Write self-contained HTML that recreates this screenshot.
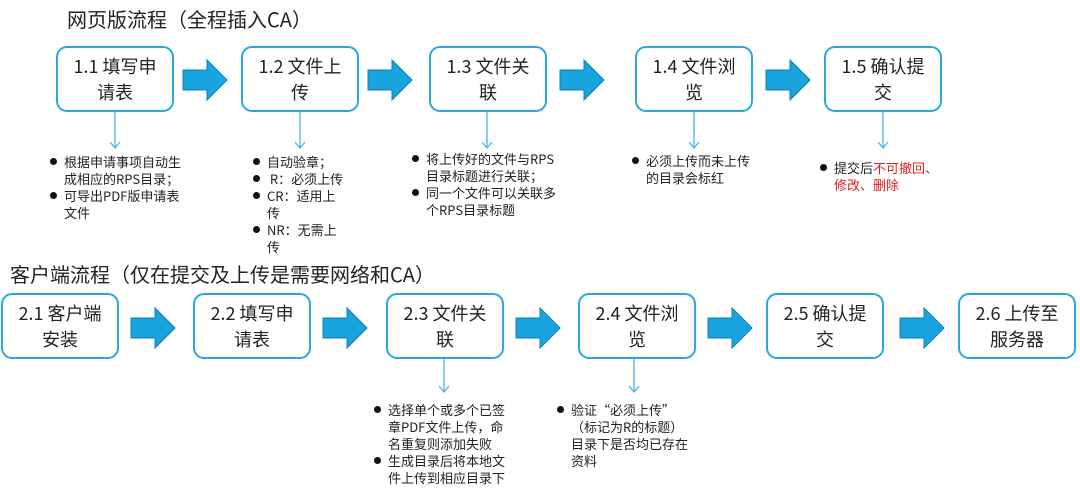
<!DOCTYPE html>
<html><head><meta charset="utf-8"><style>
body{margin:0;width:1080px;height:489px;background:#fff;position:relative;overflow:hidden;font-family:"Noto Sans CJK SC","Liberation Sans",sans-serif;color:#222}
.t{position:absolute;font-size:20px;line-height:26px;white-space:nowrap}
.b{position:absolute;box-sizing:border-box;width:118px;height:66px;border:2.5px solid #29a8e0;border-radius:11px;font-size:18px;line-height:26px;text-align:center;padding-top:5px;background:#fff}
.n{position:absolute;font-size:13px;line-height:17px}
.n div{position:relative;padding-left:14px}
.n div.d::before{content:"";position:absolute;left:0;top:5px;width:7px;height:7px;border-radius:50%;background:#111}
.r{color:#e02020}
svg{position:absolute;left:0;top:0}
</style></head><body>
<div class="t" style="left:67px;top:6px">网页版流程（全程插入CA）</div>
<div class="t" style="left:10px;top:261px">客户端流程（仅在提交及上传是需要网络和CA）</div>

<div class="b" style="left:56px;top:46px">1.1 填写申<br>请表</div>
<div class="b" style="left:241px;top:46px">1.2 文件上<br>传</div>
<div class="b" style="left:429px;top:46px">1.3 文件关<br>联</div>
<div class="b" style="left:635px;top:46px">1.4 文件浏<br>览</div>
<div class="b" style="left:824px;top:46px">1.5 确认提<br>交</div>

<div class="b" style="left:1px;top:293px">2.1 客户端<br>安装</div>
<div class="b" style="left:193px;top:293px">2.2 填写申<br>请表</div>
<div class="b" style="left:386px;top:293px">2.3 文件关<br>联</div>
<div class="b" style="left:578px;top:293px">2.4 文件浏<br>览</div>
<div class="b" style="left:766px;top:293px">2.5 确认提<br>交</div>
<div class="b" style="left:958px;top:293px">2.6 上传至<br>服务器</div>

<svg width="1080" height="489">
<defs><g id="a"><polygon points="0,10 24,10 24,0 44,20 24,40 24,30 0,30" fill="#18a4de" stroke="#1380b0" stroke-width="1"/></g></defs>
<use href="#a" x="183" y="60"/><use href="#a" x="368" y="60"/><use href="#a" x="560" y="60"/><use href="#a" x="766" y="60"/>
<use href="#a" x="131" y="308"/><use href="#a" x="323" y="308"/><use href="#a" x="516" y="308"/><use href="#a" x="708" y="308"/><use href="#a" x="900" y="308"/>
<g stroke="#4ab4e6" stroke-width="1.3" fill="none">
<path d="M115 112V148M110 142L115 148L120 142"/>
<path d="M300 112V148M295 142L300 148L305 142"/>
<path d="M487 112V148M482 142L487 148L492 142"/>
<path d="M694 112V148M689 142L694 148L699 142"/>
<path d="M883 112V148M878 142L883 148L888 142"/>
<path d="M444 359V392M439 386L444 392L449 386"/>
<path d="M634 359V392M629 386L634 392L639 386"/>
</g>
</svg>

<div class="n" style="left:50px;top:153px;width:160px"><div class="d">根据申请事项自动生<br>成相应的RPS目录；</div><div class="d">可导出PDF版申请表<br>文件</div></div>
<div class="n" style="left:253px;top:153px;width:120px"><div class="d">自动验章；</div><div class="d">&nbsp;R：必须上传</div><div class="d">CR：适用上<br>传</div><div class="d">NR：无需上<br>传</div></div>
<div class="n" style="left:412px;top:150px;width:190px"><div class="d">将上传好的文件与RPS<br>目录标题进行关联；</div><div class="d">同一个文件可以关联多<br>个RPS目录标题</div></div>
<div class="n" style="left:632px;top:152px;width:140px"><div class="d">必须上传而未上传<br>的目录会标红</div></div>
<div class="n" style="left:820px;top:159px;width:140px"><div class="d">提交后<span class="r">不可撤回、<br>修改、删除</span></div></div>
<div class="n" style="left:374px;top:401px;width:160px"><div class="d">选择单个或多个已签<br>章PDF文件上传，命<br>名重复则添加失败</div><div class="d">生成目录后将本地文<br>件上传到相应目录下</div></div>
<div class="n" style="left:557px;top:401px;width:160px"><div class="d">验证“必须上传”<br>（标记为R的标题）<br>目录下是否均已存在<br>资料</div></div>
</body></html>
